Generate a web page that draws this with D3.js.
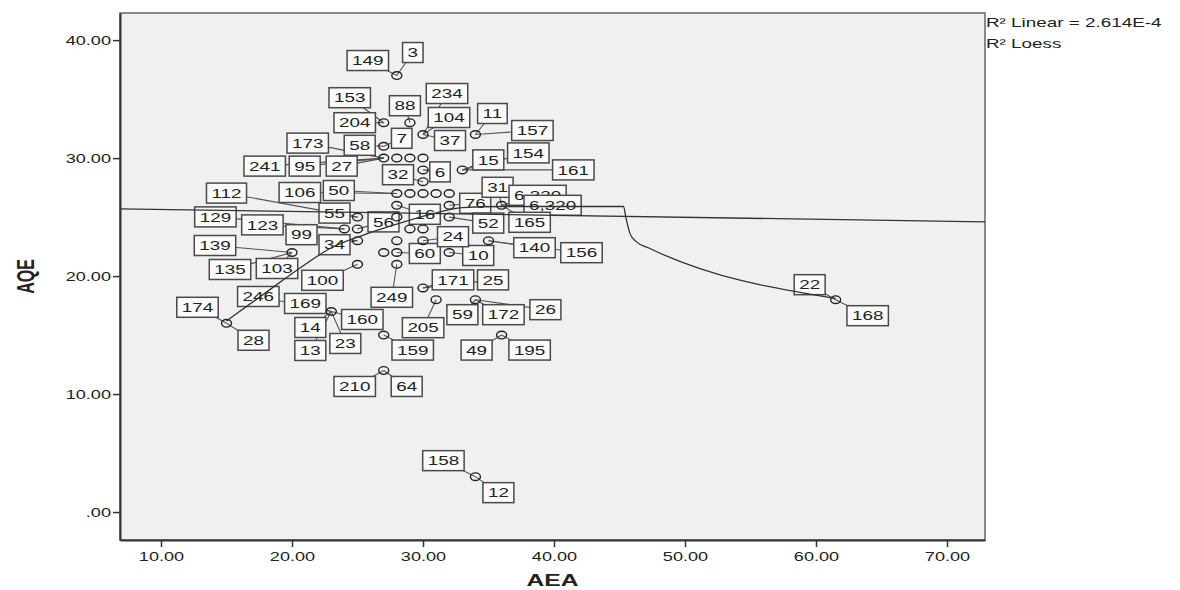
<!DOCTYPE html>
<html>
<head>
<meta charset="utf-8">
<script src="https://cdn.jsdelivr.net/npm/d3@7"></script>
<style>
  body { margin: 0; background: #fff; }
  text { font-family: "Liberation Sans", Arial, sans-serif; fill: #222; }
</style>
</head>
<body>
<svg id="chart" width="1180" height="590"></svg>
<script>
// axis ticks
var xTicks = [10, 20, 30, 40, 50, 60, 70];
var yTicks = [0, 10, 20, 30, 40];

// every plotted case (AEA, AQE)
var pointAEA = [28, 34, 61.5, 27, 15, 36, 27, 23, 31, 34, 30, 28, 25, 20, 27, 28, 32, 25, 28, 30, 35,
  24, 25, 29, 30, 25, 28, 32, 28, 32, 36, 28, 29, 30, 31, 32, 30, 30, 33, 27, 28, 29, 30, 27, 27, 29, 30, 34];
var pointAQE = [37, 3, 18, 12, 16, 15, 15, 17, 18, 18, 19, 21, 21, 22, 22, 22, 22, 23, 23, 23, 23,
  24, 24, 24, 24, 25, 25, 25, 26, 26, 26, 27, 27, 27, 27, 27, 28, 29, 29, 30, 30, 30, 30, 31, 33, 33, 32, 32];

// labelled cases
var caseLabels = ["149", "3", "153", "204", "88", "234", "104", "37", "11", "157", "7", "58", "173",
  "241", "95", "27", "32", "6", "15", "154", "161", "112", "106", "50", "55", "129", "123", "139",
  "135", "103", "99", "34", "100", "246", "169", "14", "13", "23", "160", "174", "28", "159", "210",
  "64", "205", "59", "172", "26", "49", "195", "249", "171", "25", "60", "10", "24", "16", "56", "76",
  "31", "6,320", "6,320", "52", "165", "140", "156", "158", "12", "22", "168"];
var caseAEA = [28, 28, 27, 27, 29, 30, 30, 30, 34, 34, 27, 27, 27,
  27, 27, 27, 30, 30, 33, 33, 33, 25, 28, 28, 25, 24, 24, 20,
  20, 20, 25, 25, 25, 23, 23, 23, 23, 23, 23, 15, 15, 27, 27,
  27, 31, 34, 34, 34, 36, 36, 28, 30, 30, 28, 32, 30, 28, 25, 32,
  36, 36, 36, 32, 36, 35, 35, 34, 34, 61.5, 61.5];
var caseAQE = [37, 37, 33, 33, 33, 32, 32, 32, 32, 32, 31, 31, 30,
  30, 30, 30, 28, 29, 29, 29, 29, 25, 27, 27, 25, 24, 24, 22,
  22, 22, 23, 23, 21, 17, 17, 17, 17, 17, 17, 16, 16, 15, 12,
  12, 18, 18, 18, 18, 15, 15, 21, 19, 19, 22, 22, 23, 26, 24, 26,
  26, 26, 26, 25, 26, 23, 23, 3, 3, 18, 18];

// fit lines
var linearAEA = [6.87, 72.9];
var linearAQE = [25.7, 24.6];
var loessAEA = [15, 18, 20.5, 23, 25.5, 28, 30.5, 33, 36, 45.3, 45.5, 45.8, 46.3, 47.2, 61.5];
var loessAQE = [16.2, 18.6, 20.6, 22.4, 23.5, 24.4, 25.2, 25.8, 25.9, 25.9, 24.9, 23.6, 22.9, 22.4, 18.1];

// layout: label box centre relative to its point, px
var labelOffset = [[-29, -15], [16, -23], [-34, -25], [-29, 0], [-5, -17], [24, -41], [26, -17], [27, 6],
  [17, -21], [57, -4], [18, -8], [-24, -1], [-76, -15], [-119, 8], [-79, 8], [-42, 8], [-25, -7], [17, 2],
  [26, -10], [66, -17], [111, 0], [-131, -24], [-97, -1], [-58, -3], [-23, -4], [-129, -12], [-82, -4],
  [-77, -7], [-62, 17], [-15, 16], [-56, -6], [-23, 4], [-35, 16], [-73, -15], [-26, -8], [-21, 16],
  [-21, 39], [14, 32], [31, 8], [-29, -16], [27, 17], [29, 15], [-29, 16], [23, 16], [-13, 28], [-13, 15],
  [28, 15], [70, 10], [-25, 15], [28, 15], [-5, 33], [30, -8], [70, -8], [28, 1], [29, 3], [30, -4],
  [28, 9], [26, -7], [26, -2], [-4, -18], [36, -10], [51, 0], [39, 6], [28, 17], [46, 7], [93, 12],
  [-32, -16], [23, 16], [-26, -15], [32, 16]];

var svg = d3.select("#chart");
var plotL = 120, plotR = 985, plotT = 13, plotB = 540;
var sx = 1.45; // glyphs in the picture are drawn wide

var x = d3.scaleLinear().domain([6.87, 72.9]).range([plotL, plotR]);
var y = d3.scaleLinear().domain([-2.37, 42.3]).range([plotB, plotT]);

svg.append("rect")
  .attr("x", plotL).attr("y", plotT)
  .attr("width", plotR - plotL).attr("height", plotB - plotT)
  .attr("fill", "#f0f0f0").attr("stroke", "#666").attr("stroke-width", 1.5);

// axes
var xAxis = svg.append("g")
  .attr("transform", "translate(0," + plotB + ")")
  .call(d3.axisBottom(x).tickValues(xTicks).tickSize(7).tickSizeOuter(0)
    .tickFormat(function(d){ return d.toFixed(2); }));
var yAxis = svg.append("g")
  .attr("transform", "translate(" + plotL + ",0)")
  .call(d3.axisLeft(y).tickValues(yTicks).tickSize(7).tickSizeOuter(0)
    .tickFormat(function(d){ return d === 0 ? ".00" : d.toFixed(2); }));

[xAxis, yAxis].forEach(function(a){
  a.select(".domain").attr("stroke", "#333").attr("stroke-width", 2);
  a.selectAll(".tick line").attr("stroke", "#333").attr("stroke-width", 1.5);
  a.selectAll(".tick text").attr("font-size", 12.5).attr("fill", "#333")
    .style("font-family", '"Liberation Sans", Arial, sans-serif');
});
xAxis.selectAll(".tick text")
  .attr("y", 0).attr("dy", 0)
  .attr("transform", "translate(0,21) scale(" + sx + ",1)");
yAxis.selectAll(".tick text")
  .attr("x", 0).attr("dy", "0.35em")
  .attr("transform", "translate(-9,0) scale(" + sx + ",1)");

// connector lines from case labels to points
var cases = caseLabels.map(function(lab, i){
  return { label: lab, px: x(caseAEA[i]), py: y(caseAQE[i]),
           lx: x(caseAEA[i]) + labelOffset[i][0], ly: y(caseAQE[i]) + labelOffset[i][1] };
});

svg.append("g").selectAll("line")
  .data(cases).enter().append("line")
  .attr("x1", function(d){ return d.px; }).attr("y1", function(d){ return d.py; })
  .attr("x2", function(d){ return d.lx; }).attr("y2", function(d){ return d.ly; })
  .attr("stroke", "#555").attr("stroke-width", 1.1);

// label boxes
var boxes = svg.append("g").selectAll("g")
  .data(cases).enter().append("g")
  .attr("transform", function(d){ return "translate(" + d.lx + "," + d.ly + ")"; });

boxes.each(function(d){
  var g = d3.select(this);
  var rect = g.append("rect");
  var t = g.append("text")
    .attr("text-anchor", "middle").attr("dy", "0.36em")
    .attr("font-size", 13)
    .attr("transform", "scale(" + sx + ",1)")
    .text(d.label);
  var w = t.node().getComputedTextLength() * sx + 10;
  rect.attr("x", -w / 2).attr("y", -10).attr("width", w).attr("height", 20)
    .attr("fill", "#fafafa").attr("stroke", "#4a4a4a").attr("stroke-width", 1.5);
});

// points
svg.append("g").selectAll("ellipse")
  .data(pointAEA).enter().append("ellipse")
  .attr("cx", function(d){ return x(d); })
  .attr("cy", function(d, i){ return y(pointAQE[i]); })
  .attr("rx", 5).attr("ry", 3.8)
  .attr("fill", "none").attr("stroke", "#222").attr("stroke-width", 1.4);

// fit lines
var line = d3.line()
  .x(function(d){ return x(d[0]); })
  .y(function(d){ return y(d[1]); });

svg.append("path")
  .datum(linearAEA.map(function(v, i){ return [v, linearAQE[i]]; }))
  .attr("d", line)
  .attr("fill", "none").attr("stroke", "#333").attr("stroke-width", 1.3);

svg.append("path")
  .datum(loessAEA.map(function(v, i){ return [v, loessAQE[i]]; }))
  .attr("d", line.curve(d3.curveMonotoneX))
  .attr("fill", "none").attr("stroke", "#333").attr("stroke-width", 1.3);

// legend
var legend = [["R\u00b2 Linear = 2.614E-4", 27], ["R\u00b2 Loess", 48]];
legend.forEach(function(l){
  svg.append("text")
    .attr("transform", "translate(" + (plotR + 1) + "," + l[1] + ") scale(" + sx + ",1)")
    .attr("font-size", 13).attr("fill", "#333")
    .text(l[0]);
});

// axis titles
svg.append("text")
  .attr("transform", "translate(" + (plotL + plotR) / 2 + ",586) scale(" + sx + ",1)")
  .attr("text-anchor", "middle").attr("font-size", 17).attr("font-weight", "bold")
  .text("AEA");
svg.append("text")
  .attr("transform", "translate(34," + (plotT + plotB) / 2 + ") rotate(-90) scale(1," + sx + ")")
  .attr("text-anchor", "middle").attr("font-size", 16).attr("font-weight", "bold")
  .text("AQE");
</script>
</body>
</html>
